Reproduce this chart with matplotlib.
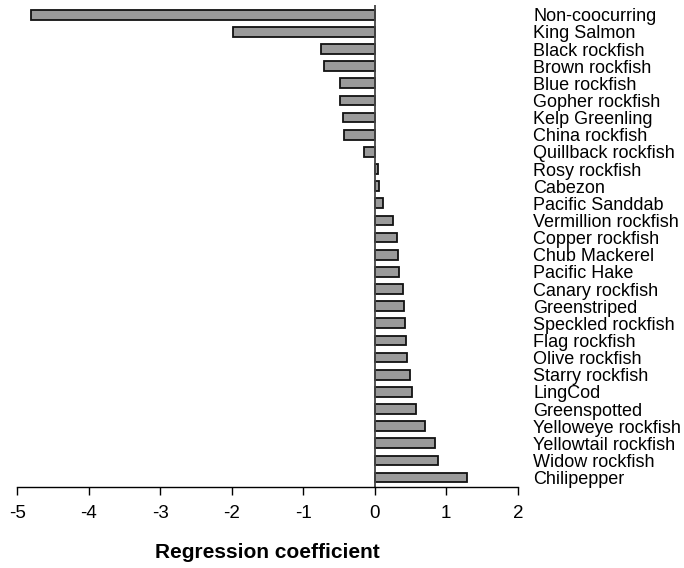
import matplotlib
matplotlib.use('Agg')
import matplotlib.pyplot as plt
import numpy as np

plt.rcParams['font.family'] = ['Liberation Sans', 'DejaVu Sans']

# Species, top to bottom
species = ['Non-coocurring', 'King Salmon', 'Black rockfish', 'Brown rockfish',
           'Blue rockfish', 'Gopher rockfish', 'Kelp Greenling', 'China rockfish',
           'Quillback rockfish', 'Rosy rockfish', 'Cabezon', 'Pacific Sanddab',
           'Vermillion rockfish', 'Copper rockfish', 'Chub Mackerel', 'Pacific Hake',
           'Canary rockfish', 'Greenstriped', 'Speckled rockfish', 'Flag rockfish',
           'Olive rockfish', 'Starry rockfish', 'LingCod', 'Greenspotted',
           'Yelloweye rockfish', 'Yellowtail rockfish', 'Widow rockfish', 'Chilipepper']

# Regression coefficients
coef = [-4.81, -1.98, -0.75, -0.71, -0.49, -0.48, -0.44, -0.43, -0.15,
        0.05, 0.06, 0.11, 0.25, 0.31, 0.32, 0.34, 0.39, 0.41, 0.43, 0.44,
        0.45, 0.50, 0.52, 0.57, 0.70, 0.84, 0.89, 1.29]

xticks = [-5, -4, -3, -2, -1, 0, 1, 2]

fig = plt.figure(figsize=(6.84, 5.68), dpi=100)
ax = fig.add_axes([0.025, 0.1426, 0.732, 0.848])

y = np.arange(len(species))
ax.barh(y, coef, height=0.57, color='#9a9a9a', edgecolor='#111111', linewidth=1.3)
ax.axvline(0, color='#444444', linewidth=1.3)

ax.set_xlim(-5, 2)
ax.set_ylim(len(species) - 0.45, -0.55)
ax.set_xticks(xticks)
ax.set_xticklabels([str(t) for t in xticks], fontsize=13.5)
ax.tick_params(axis='x', direction='out', length=6, width=1, pad=7)

# labels on the right side, no tick marks
ax.yaxis.tick_right()
ax.set_yticks(y)
ax.set_yticklabels(species, fontsize=13)
ax.tick_params(axis='y', length=0, pad=11)

for s in ['top', 'left', 'right']:
    ax.spines[s].set_visible(False)
ax.spines['bottom'].set_linewidth(1)

ax.set_xlabel('Regression coefficient', fontsize=15, fontweight='bold', labelpad=15)

fig.savefig('out.png', dpi=100)
